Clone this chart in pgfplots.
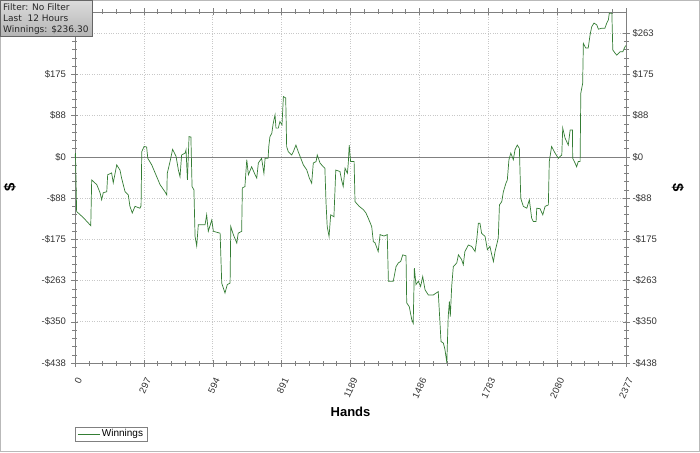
\documentclass[border=0pt]{standalone}
\usepackage{pgfplots}
\pgfplotsset{compat=1.18}
\usepackage{fontspec}
\setmainfont{Liberation Sans}
\newfontfamily\boxfont{DejaVu Sans}
\definecolor{WinGreen}{RGB}{52,125,52}
\definecolor{AxGray}{RGB}{128,128,128}
\definecolor{GridGray}{RGB}{200,200,200}

\begin{document}
\begin{tikzpicture}[x=1pt,y=1pt]
\path[use as bounding box] (0,0) rectangle (700,452);

\begin{axis}[
  name=main,
  at={(75pt,89pt)}, anchor=south west,
  scale only axis,
  width=551pt, height=351pt,
  xmin=0, xmax=2377,
  ymin=-437.5, ymax=307.5,
  xtick={0,297.125,594.25,891.375,1188.5,1485.625,1782.75,2079.875,2377},
  xticklabels={0,297,594,891,1189,1486,1783,2080,2377},
  ytick={-437.5,-350,-262.5,-175,-87.5,0,87.5,175,262.5},
  yticklabels={-\$438,-\$350,-\$263,-\$175,-\$88,\$0,\$88,\$175,\$263},
  minor tick num=4,
  tick align=center,
  major tick length=7pt,
  minor tick length=5pt,
  every tick/.style={AxGray, line width=0.5pt},
  axis line style={AxGray, line width=0.6pt},
  grid=major,
  grid style={GridGray, dotted, line width=0.6pt},
  tick label style={font=\fontsize{9.5}{11}\selectfont, text=black!80},
  y tick label style={xshift=-2pt},
  x tick label style={xshift=6pt, yshift=-9pt, rotate=65, anchor=east},
  xlabel={Hands},
  xlabel style={font=\fontsize{13}{15}\selectfont\bfseries, at={(rel axis cs:0.5,-0.116)}, anchor=north},
  ylabel={\$},
  ylabel style={font=\fontsize{15}{17}\selectfont\bfseries, at={(rel axis cs:-0.118,0.5)}, anchor=center},
  legend style={at={(0,-0.182)}, anchor=north west, draw=AxGray, font=\fontsize{10}{11}\selectfont, inner xsep=2pt, inner ysep=0.5pt, row sep=0pt, legend cell align=left},
  legend image code/.code={\draw[#1] (0pt,0pt) -- (22pt,0pt);},
]
\draw[AxGray, line width=0.7pt] (axis cs:0,0) -- (axis cs:2377,0);
\addplot[WinGreen, line width=0.7pt] coordinates {
(0,0)(2,8)(7,-116)(36,-129)(68,-146)(72,-49)(94,-59)(108,-76)(115,-91)(122,-76)
(137,-74)(141,-38)(158,-34)(165,-55)(180,-17)(194,-28)(201,-45)(216,-74)(230,-81)
(237,-105)(247,-119)(259,-105)(280,-109)(285,-104)(288,11)(298,22)(309,21)(314,-3)
(331,-17)(349,-38)(367,-59)(388,-74)(396,-81)(398,-35)(410,-10)(421,16)(436,1)
(446,-28)(453,-42)(460,4)(475,8)(479,15)(485,-49)(492,43)(500,42)(505,-63)(513,-70)
(518,-169)(525,-189)(532,-144)(547,-144)(561,-144)(568,-123)(575,-158)(590,-134)
(597,-158)(626,-162)(633,-268)(647,-289)(657,-271)(669,-268)(672,-148)(683,-165)
(698,-183)(704,-162)(719,-158)(722,-66)(733,-63)(741,-6)(748,-38)(762,-21)(777,-38)
(784,-45)(791,-13)(805,-3)(815,-35)(820,-3)(833,-3)(836,22)(841,43)(849,50)(855,71)
(863,89)(867,61)(877,61)(884,75)(893,68)(899,128)(909,125)(913,22)(920,11)(935,4)
(942,11)(953,25)(963,11)(971,1)(985,-17)(1000,-28)(1011,-45)(1021,-56)(1028,-13)
(1040,-10)(1045,4)(1057,-13)(1071,-21)(1078,-24)(1083,-98)(1088,-148)(1096,-169)
(1103,-123)(1117,-127)(1125,-28)(1143,-31)(1150,-49)(1157,-63)(1165,-24)(1175,-35)
(1179,-13)(1183,25)(1189,-10)(1204,-10)(1208,-95)(1226,-105)(1244,-112)(1255,-119)
(1265,-130)(1280,-148)(1287,-180)(1294,-182)(1308,-201)(1316,-165)(1333,-168)
(1347,-165)(1352,-264)(1373,-264)(1385,-233)(1395,-225)(1405,-222)(1414,-208)
(1428,-210)(1431,-310)(1442,-318)(1453,-346)(1459,-353)(1464,-236)(1471,-271)
(1481,-264)(1491,-275)(1500,-254)(1510,-282)(1524,-293)(1546,-293)(1567,-286)
(1579,-392)(1589,-395)(1596,-409)(1604,-437)(1610,-339)(1615,-307)(1619,-339)
(1625,-275)(1632,-233)(1647,-225)(1654,-208)(1668,-218)(1675,-229)(1682,-201)
(1697,-187)(1711,-190)(1726,-201)(1733,-176)(1740,-141)(1747,-141)(1754,-162)
(1769,-169)(1779,-197)(1790,-190)(1798,-208)(1805,-222)(1812,-201)(1819,-187)
(1826,-172)(1831,-102)(1841,-95)(1848,-74)(1859,-56)(1865,-49)(1872,-6)(1880,8)
(1891,-6)(1898,15)(1908,25)(1917,18)(1923,-88)(1934,-105)(1949,-109)(1960,-91)
(1970,-130)(1977,-137)(1989,-137)(1992,-109)(2006,-110)(2018,-123)(2028,-105)
(2042,-102)(2046,-10)(2056,22)(2071,8)(2085,-3)(2100,4)(2104,61)(2114,40)(2128,25)
(2136,57)(2146,57)(2147,-3)(2157,-13)(2164,-21)(2171,-10)(2179,-10)(2182,135)
(2190,156)(2193,241)(2203,231)(2214,231)(2222,259)(2229,276)(2239,284)(2251,280)
(2258,271)(2272,273)(2286,273)(2294,284)(2301,291)(2305,305)(2316,305)(2320,227)
(2330,220)(2337,216)(2351,223)(2363,223)(2373,234)(2377,236.3)
};
\addlegendentry{Winnings}
\end{axis}

\begin{axis}[
  at={(75pt,89pt)}, anchor=south west,
  scale only axis,
  width=551pt, height=351pt,
  xmin=0, xmax=2377,
  ymin=-437.5, ymax=307.5,
  hide x axis,
  axis y line*=right,
  axis line style={draw=none},
  ytick style={draw=none},
  minor tick num=0,
  ytick={-437.5,-350,-262.5,-175,-87.5,0,87.5,175,262.5},
  yticklabels={-\$438,-\$350,-\$263,-\$175,-\$88,\$0,\$88,\$175,\$263},
  yticklabel pos=right,
  tick label style={font=\fontsize{9.5}{11}\selectfont, text=black!80, xshift=3pt},
  ylabel={\$},
  ylabel style={font=\fontsize{15}{17}\selectfont\bfseries, at={(rel axis cs:1.094,0.5)}, anchor=center, rotate=180},
]
\end{axis}

\draw[gray!55] (0.5,0.5) rectangle (699.5,451.5);
\shade[top color=gray!28, bottom color=gray!58, draw=gray!80!black] (0.5,451.5) rectangle (92,416);
\node[anchor=base west, inner sep=0pt, font=\boxfont\fontsize{9}{10}\selectfont, text=black!85] at (3,441) {Filter: No Filter};
\node[anchor=base west, inner sep=0pt, font=\boxfont\fontsize{9}{10}\selectfont, text=black!85] at (3,430) {Last\ \ 12 Hours};
\node[anchor=base west, inner sep=0pt, font=\boxfont\fontsize{9}{10}\selectfont, text=black!85] at (3,419) {Winnings: \$236.30};
\end{tikzpicture}
\end{document}
